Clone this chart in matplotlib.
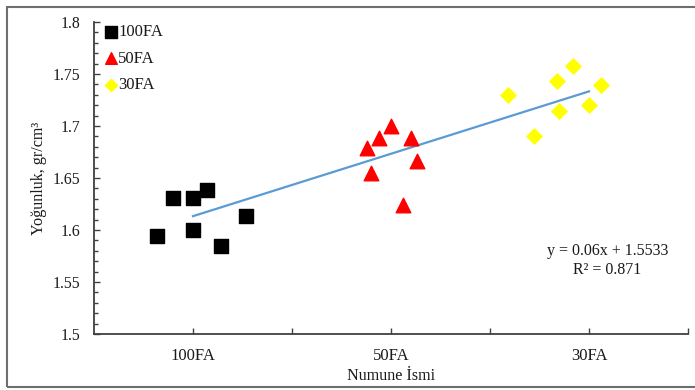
import matplotlib
matplotlib.use("Agg")
import matplotlib.pyplot as plt
import numpy as np
from matplotlib.ticker import MultipleLocator, FixedLocator, FixedFormatter
from matplotlib.patches import Rectangle

plt.rcParams['font.family'] = ['Liberation Serif', 'DejaVu Serif']

# ---- data ----
categories = ["100FA", "50FA", "30FA"]
category_pos = [1, 2, 3]

x_100FA = [0.82, 0.90, 1.00, 1.07, 1.00, 1.14, 1.27]
y_100FA = [1.594, 1.631, 1.631, 1.638, 1.600, 1.585, 1.613]

x_50FA = [1.88, 1.94, 2.00, 2.10, 2.13, 1.90, 2.06]
y_50FA = [1.679, 1.688, 1.700, 1.688, 1.666, 1.655, 1.624]

x_30FA = [2.59, 2.72, 2.84, 2.92, 2.85, 3.00, 3.06]
y_30FA = [1.730, 1.690, 1.743, 1.758, 1.714, 1.720, 1.739]

trend_slope = 0.06
trend_intercept = 1.5533
trend_r2 = 0.871
trend_x = [1, 3]

# ---- figure ----
fig = plt.figure(figsize=(6.95, 3.9), dpi=100)
ax = fig.add_axes([94/695, 1-334/390, (688-94)/695, (334-22)/390])

txt_col = '#1a1a1a'
spine_col = '#404040'

ax.scatter(x_100FA, y_100FA, marker='s', s=105, color='black', label='100FA', zorder=3)
ax.scatter(x_50FA, y_50FA, marker='^', s=110, color='#ff0000', label='50FA', zorder=3)
ax.scatter(x_30FA, y_30FA, marker='D', s=60, color='#ffff00', label='30FA', zorder=3)

tx = np.array(trend_x, dtype=float)
ax.plot(tx, trend_slope*tx + trend_intercept, color='#5B9BD5', lw=1.6, zorder=2)

ax.set_xlim(0.5, 3.5)
ax.set_ylim(1.5, 1.8)

ax.xaxis.set_major_locator(FixedLocator(category_pos))
ax.xaxis.set_major_formatter(FixedFormatter(categories))
ax.xaxis.set_minor_locator(FixedLocator([1.5, 2.5, 3.5]))
ax.yaxis.set_major_locator(MultipleLocator(0.05))
ax.yaxis.set_minor_locator(MultipleLocator(0.01))
ax.yaxis.set_major_formatter(matplotlib.ticker.FuncFormatter(lambda v, p: f"{v:.2f}".rstrip('0').rstrip('.')))

ax.tick_params(axis='both', which='both', direction='in', color=spine_col, width=1.0)
ax.tick_params(axis='y', which='major', length=4, labelsize=11.3, labelcolor=txt_col, pad=10)
ax.tick_params(axis='y', which='minor', length=3)
ax.tick_params(axis='x', which='both', length=4, labelsize=12, labelcolor=txt_col, pad=10)

for s in ['top', 'right']:
    ax.spines[s].set_visible(False)
for s in ['left', 'bottom']:
    ax.spines[s].set_color(spine_col)
    ax.spines[s].set_linewidth(1.3)

ax.set_xlabel("Numune İsmi", fontsize=11.6, color=txt_col, labelpad=3)
ax.set_ylabel("Yoğunluk, gr/cm³", fontsize=11.6, color=txt_col, labelpad=4)

ax.text(0.864, 0.266, "y = 0.06x + 1.5533", transform=ax.transAxes, ha='center', va='center',
        fontsize=11.5, color=txt_col)
ax.text(0.864, 0.205, f"R² = {trend_r2}", transform=ax.transAxes, ha='center', va='center',
        fontsize=11.5, color=txt_col)

leg = ax.legend(loc='upper left', bbox_to_anchor=(-0.01, 1.03), frameon=False, fontsize=12,
                handletextpad=-0.2, labelspacing=0.62, borderaxespad=0.3, handlelength=1.3,
                markerscale=0.8)
for t in leg.get_texts():
    t.set_color(txt_col)

# outer border
fig.patches.append(Rectangle((7/695, 3/390), 700/695, (385-5)/390, transform=fig.transFigure,
                             fill=False, edgecolor='#6e6e6e', lw=1.5, clip_on=False))

fig.savefig("out.png", dpi=100, facecolor='white')
